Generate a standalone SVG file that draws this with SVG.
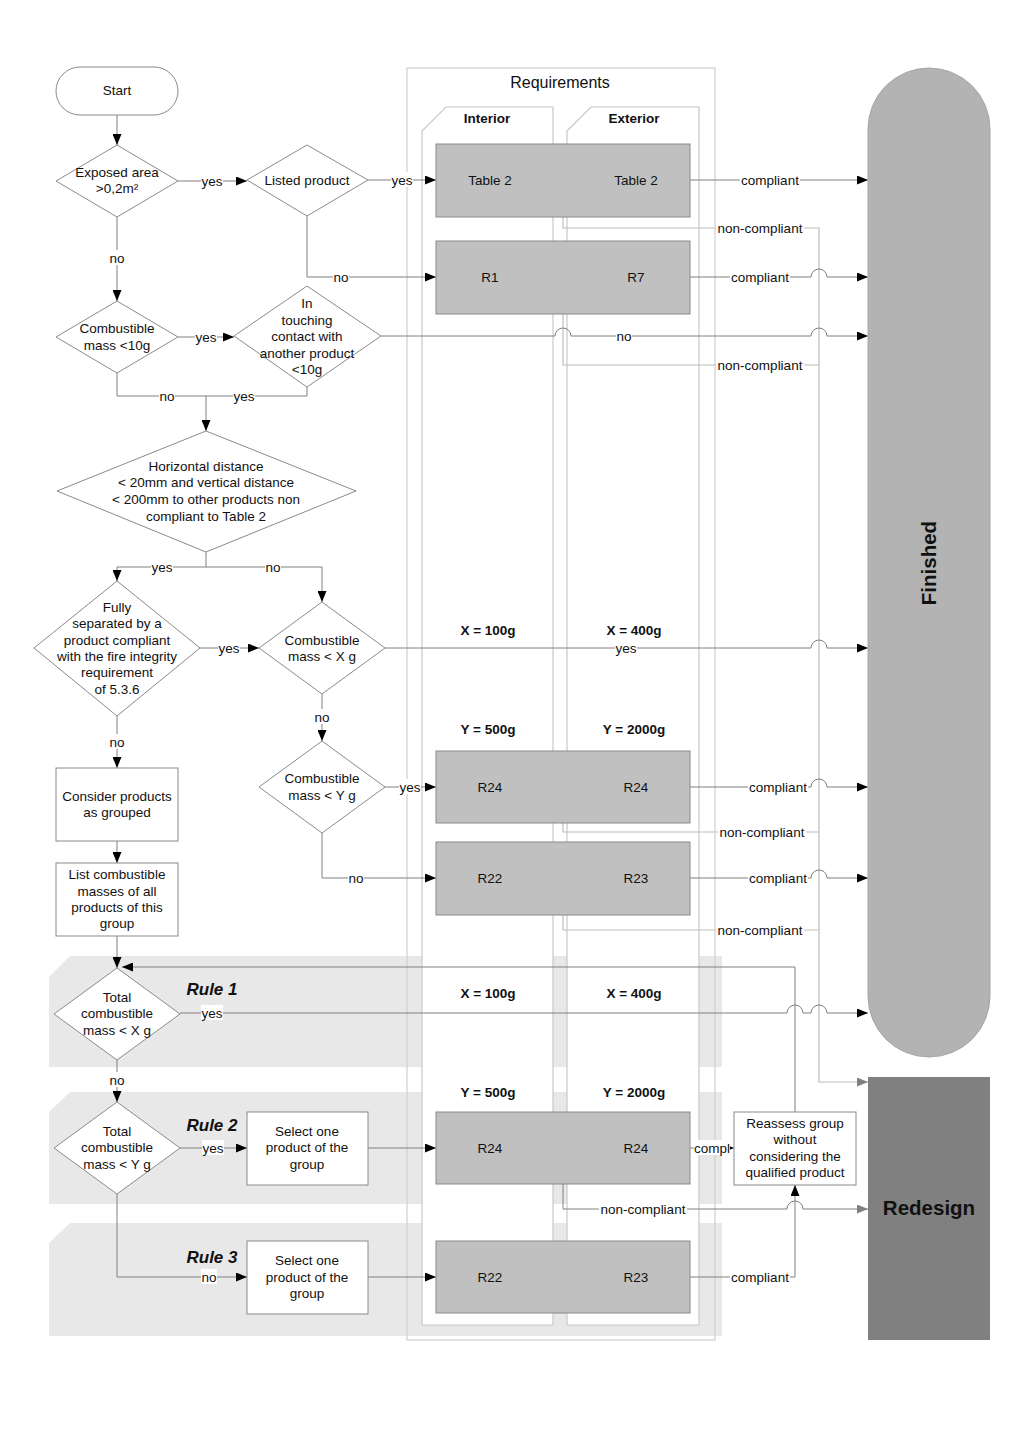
<svg xmlns="http://www.w3.org/2000/svg" width="1024" height="1448" viewBox="0 0 1024 1448">
<style>
text{font-family:"Liberation Sans",Arial,sans-serif;fill:#111}
.t{font-size:13.5px;text-anchor:middle}
.b{font-size:13.5px;font-weight:bold;text-anchor:middle}
.rule{font-size:17px;font-weight:bold;font-style:italic;text-anchor:middle}
.big{font-size:20.5px;font-weight:bold;text-anchor:middle}
.node{fill:#fff;stroke:#8a8a8a;stroke-width:1}
.req{fill:#c0c0c0;stroke:#8a8a8a;stroke-width:1}
.band{fill:#e8e8e8}
.lane{fill:#fff;stroke:#c8c8c8;stroke-width:1.2}
.c{fill:none;stroke:#808080;stroke-width:1}
.nc{fill:none;stroke:#bdbdbd;stroke-width:1.2}
.lbg{fill:#fff}
</style>
<defs>
<marker id="a" markerUnits="userSpaceOnUse" markerWidth="11" markerHeight="9" refX="11" refY="4.5" orient="auto"><path d="M0,0 L11,4.5 L0,9 z" fill="#000"/></marker>
<marker id="g" markerUnits="userSpaceOnUse" markerWidth="11" markerHeight="9" refX="11" refY="4.5" orient="auto"><path d="M0,0 L11,4.5 L0,9 z" fill="#808080"/></marker>
</defs>
<rect x="0" y="0" width="1024" height="1448" fill="#fff"/>

<g id="bands">
<polygon class="band" points="49,977 70,956 722,956 722,1067 49,1067"/>
<polygon class="band" points="49,1112 70,1092 722,1092 722,1204 49,1204"/>
<polygon class="band" points="49,1243 70,1223 722,1223 722,1336 49,1336"/>
</g>

<g id="requirements">
<rect x="407" y="68" width="308" height="1272" fill="none" stroke="#cfcfcf" stroke-width="1.2"/>
<text x="560" y="88" style="font-size:16px;text-anchor:middle">Requirements</text>
<polygon class="lane" points="422,131 446,107 553,107 553,1325 422,1325"/>
<polygon class="lane" points="567,131 591,107 699,107 699,1325 567,1325"/>
<text class="b" x="487" y="123">Interior</text>
<text class="b" x="634" y="123">Exterior</text>
<text class="b" x="488" y="635">X = 100g</text>
<text class="b" x="634" y="635">X = 400g</text>
<text class="b" x="488" y="734">Y = 500g</text>
<text class="b" x="634" y="734">Y = 2000g</text>
<text class="b" x="488" y="998">X = 100g</text>
<text class="b" x="634" y="998">X = 400g</text>
<text class="b" x="488" y="1097">Y = 500g</text>
<text class="b" x="634" y="1097">Y = 2000g</text>
</g>

<g id="rule-labels">
<text class="rule" x="212" y="995">Rule 1</text>
<text class="rule" x="212" y="1131">Rule 2</text>
<text class="rule" x="212" y="1263">Rule 3</text>
</g>

<g id="connectors">
<path class="nc" d="M563,217 V228 H819 V1082 H868" marker-end="url(#g)"/>
<path class="nc" d="M563,314 V365 H819"/>
<path class="nc" d="M563,823 V832 H819"/>
<path class="nc" d="M563,915 V930 H819"/>
<path class="c" d="M563,1184 V1209 H787 A8,8 0 0 1 803,1209 H868" marker-end="url(#g)"/>

<path class="c" d="M117,115 V145" marker-end="url(#a)"/>
<path class="c" d="M178,181 H247" marker-end="url(#a)"/>
<path class="c" d="M368,180 H436" marker-end="url(#a)"/>
<path class="c" d="M307,216 V277 H436" marker-end="url(#a)"/>
<path class="c" d="M117,217 V301" marker-end="url(#a)"/>
<path class="c" d="M178,337 H234" marker-end="url(#a)"/>
<path class="c" d="M381,336 H555 A8,8 0 0 1 571,336 H811 A8,8 0 0 1 827,336 H868" marker-end="url(#a)"/>
<path class="c" d="M117,373 V396 H307 V387"/>
<path class="c" d="M206,396 V431" marker-end="url(#a)"/>
<path class="c" d="M206,552 V567 H117 V581" marker-end="url(#a)"/>
<path class="c" d="M206,567 H322 V602" marker-end="url(#a)"/>
<path class="c" d="M200,648 H259" marker-end="url(#a)"/>
<path class="c" d="M385,648 H811 A8,8 0 0 1 827,648 H868" marker-end="url(#a)"/>
<path class="c" d="M322,694 V741" marker-end="url(#a)"/>
<path class="c" d="M385,787 H436" marker-end="url(#a)"/>
<path class="c" d="M322,833 V878 H436" marker-end="url(#a)"/>
<path class="c" d="M117,716 V768" marker-end="url(#a)"/>
<path class="c" d="M117,841 V863" marker-end="url(#a)"/>
<path class="c" d="M117,936 V968" marker-end="url(#a)"/>
<path class="c" d="M180,1013 H787 A8,8 0 0 1 803,1013 H811 A8,8 0 0 1 827,1013 H868" marker-end="url(#a)"/>
<path class="c" d="M117,1060 V1102" marker-end="url(#a)"/>
<path class="c" d="M180,1148 H247" marker-end="url(#a)"/>
<path class="c" d="M368,1148 H436" marker-end="url(#a)"/>
<path class="c" d="M117,1194 V1277 H247" marker-end="url(#a)"/>
<path class="c" d="M368,1277 H436" marker-end="url(#a)"/>
<path class="c" d="M690,180 H868" marker-end="url(#a)"/>
<path class="c" d="M690,277 H811 A8,8 0 0 1 827,277 H868" marker-end="url(#a)"/>
<path class="c" d="M690,787 H811 A8,8 0 0 1 827,787 H868" marker-end="url(#a)"/>
<path class="c" d="M690,878 H811 A8,8 0 0 1 827,878 H868" marker-end="url(#a)"/>
<path class="c" d="M690,1148 H734" marker-end="url(#a)"/>
<path class="c" d="M690,1277 H795 V1185" marker-end="url(#a)"/>
<path class="c" d="M795,1112 V967 H122" marker-end="url(#a)"/>

<g id="connector-labels">
<rect class="lbg" x="201" y="173" width="22" height="15"/><text class="t" x="212" y="186">yes</text>
<rect class="lbg" x="391" y="172" width="22" height="15"/><text class="t" x="402" y="185">yes</text>
<rect class="lbg" x="333" y="269" width="16" height="15"/><text class="t" x="341" y="282">no</text>
<rect class="lbg" x="109" y="250" width="16" height="15"/><text class="t" x="117" y="263">no</text>
<rect class="lbg" x="195" y="329" width="22" height="15"/><text class="t" x="206" y="342">yes</text>
<rect class="lbg" x="616" y="328" width="16" height="15"/><text class="t" x="624" y="341">no</text>
<rect class="lbg" x="159" y="388" width="16" height="15"/><text class="t" x="167" y="401">no</text>
<rect class="lbg" x="233" y="388" width="22" height="15"/><text class="t" x="244" y="401">yes</text>
<rect class="lbg" x="151" y="559" width="22" height="15"/><text class="t" x="162" y="572">yes</text>
<rect class="lbg" x="265" y="559" width="16" height="15"/><text class="t" x="273" y="572">no</text>
<rect class="lbg" x="218" y="640" width="22" height="15"/><text class="t" x="229" y="653">yes</text>
<rect class="lbg" x="615" y="640" width="22" height="15"/><text class="t" x="626" y="653">yes</text>
<rect class="lbg" x="314" y="709" width="16" height="15"/><text class="t" x="322" y="722">no</text>
<rect class="lbg" x="399" y="779" width="22" height="15"/><text class="t" x="410" y="792">yes</text>
<rect class="lbg" x="348" y="870" width="16" height="15"/><text class="t" x="356" y="883">no</text>
<rect class="lbg" x="109" y="734" width="16" height="15"/><text class="t" x="117" y="747">no</text>
<rect class="lbg" x="201" y="1005" width="22" height="15"/><text class="t" x="212" y="1018">yes</text>
<rect class="lbg" x="109" y="1072" width="16" height="15"/><text class="t" x="117" y="1085">no</text>
<rect class="lbg" x="202" y="1140" width="22" height="15"/><text class="t" x="213" y="1153">yes</text>
<rect class="lbg" x="201" y="1269" width="16" height="15"/><text class="t" x="209" y="1282">no</text>
<rect class="lbg" x="740" y="172" width="60" height="15"/><text class="t" x="770" y="185">compliant</text>
<rect class="lbg" x="716" y="220" width="88" height="15"/><text class="t" x="760" y="233">non-compliant</text>
<rect class="lbg" x="730" y="269" width="60" height="15"/><text class="t" x="760" y="282">compliant</text>
<rect class="lbg" x="716" y="357" width="88" height="15"/><text class="t" x="760" y="370">non-compliant</text>
<rect class="lbg" x="748" y="779" width="60" height="15"/><text class="t" x="778" y="792">compliant</text>
<rect class="lbg" x="718" y="824" width="88" height="15"/><text class="t" x="762" y="837">non-compliant</text>
<rect class="lbg" x="748" y="870" width="60" height="15"/><text class="t" x="778" y="883">compliant</text>
<rect class="lbg" x="716" y="922" width="88" height="15"/><text class="t" x="760" y="935">non-compliant</text>
<rect class="lbg" x="694" y="1140" width="36" height="15"/><text class="t" x="712" y="1153">compl</text>
<rect class="lbg" x="599" y="1201" width="88" height="15"/><text class="t" x="643" y="1214">non-compliant</text>
<rect class="lbg" x="730" y="1269" width="60" height="15"/><text class="t" x="760" y="1282">compliant</text>
</g>
</g>

<g id="start"><rect class="node" x="56" y="67" width="122" height="48" rx="24"/><text class="t" x="117" y="95">Start</text></g>
<g id="exposed-area"><polygon class="node" points="117,145 178,181 117,217 56,181"/><text class="t" x="117" y="177">Exposed area</text><text class="t" x="117" y="193">&gt;0,2m²</text></g>
<g id="listed-product"><polygon class="node" points="307,145 368,180 307,216 247,180"/><text class="t" x="307" y="185">Listed product</text></g>
<g id="combustible-10g"><polygon class="node" points="117,301 178,337 117,373 56,337"/><text class="t" x="117" y="332.5">Combustible</text><text class="t" x="117" y="350">mass &lt;10g</text></g>
<g id="touching-contact"><polygon class="node" points="307,286 381,336 307,387 234,336"/>
<text class="t" x="307" y="308">In</text><text class="t" x="307" y="324.5">touching</text><text class="t" x="307" y="341">contact with</text><text class="t" x="307" y="357.5">another product</text><text class="t" x="307" y="374">&lt;10g</text></g>
<g id="distance"><polygon class="node" points="206,431 356,491 206,552 57,491"/>
<text class="t" x="206" y="470.5">Horizontal distance</text><text class="t" x="206" y="487">&lt; 20mm and vertical distance</text><text class="t" x="206" y="504">&lt; 200mm to other products non</text><text class="t" x="206" y="520.5">compliant to Table 2</text></g>
<g id="fully-separated"><polygon class="node" points="117,581 200,648 117,716 34,648"/>
<text class="t" x="117" y="612">Fully</text><text class="t" x="117" y="628">separated by a</text><text class="t" x="117" y="645">product compliant</text><text class="t" x="117" y="661">with the fire integrity</text><text class="t" x="117" y="677">requirement</text><text class="t" x="117" y="693.5">of 5.3.6</text></g>
<g id="mass-x"><polygon class="node" points="322,602 385,648 322,694 259,648"/><text class="t" x="322" y="645">Combustible</text><text class="t" x="322" y="661">mass &lt; X g</text></g>
<g id="mass-y"><polygon class="node" points="322,741 385,787 322,833 259,787"/><text class="t" x="322" y="783">Combustible</text><text class="t" x="322" y="800">mass &lt; Y g</text></g>
<g id="consider-grouped"><rect class="node" x="56" y="768" width="122" height="73"/><text class="t" x="117" y="800.5">Consider products</text><text class="t" x="117" y="816.5">as grouped</text></g>
<g id="list-masses"><rect class="node" x="56" y="863" width="122" height="73"/><text class="t" x="117" y="879">List combustible</text><text class="t" x="117" y="895.5">masses of all</text><text class="t" x="117" y="912">products of this</text><text class="t" x="117" y="928">group</text></g>
<g id="total-x"><polygon class="node" points="117,968 180,1014 117,1060 54,1014"/><text class="t" x="117" y="1001.5">Total</text><text class="t" x="117" y="1018">combustible</text><text class="t" x="117" y="1035">mass &lt; X g</text></g>
<g id="total-y"><polygon class="node" points="117,1102 180,1148 117,1194 54,1148"/><text class="t" x="117" y="1136">Total</text><text class="t" x="117" y="1152">combustible</text><text class="t" x="117" y="1169">mass &lt; Y g</text></g>
<g id="select-1"><rect class="node" x="247" y="1112" width="121" height="73"/><text class="t" x="307" y="1136">Select one</text><text class="t" x="307" y="1152">product of the</text><text class="t" x="307" y="1169">group</text></g>
<g id="select-2"><rect class="node" x="247" y="1241" width="121" height="73"/><text class="t" x="307" y="1265">Select one</text><text class="t" x="307" y="1281.5">product of the</text><text class="t" x="307" y="1298">group</text></g>
<g id="reassess"><rect class="node" x="734" y="1112" width="122" height="73"/><text class="t" x="795" y="1127.5">Reassess group</text><text class="t" x="795" y="1144">without</text><text class="t" x="795" y="1160.5">considering the</text><text class="t" x="795" y="1177">qualified product</text></g>

<g id="req-table2"><rect class="req" x="436" y="144" width="254" height="73"/><text class="t" x="490" y="185">Table 2</text><text class="t" x="636" y="185">Table 2</text></g>
<g id="req-r1-r7"><rect class="req" x="436" y="241" width="254" height="73"/><text class="t" x="490" y="282">R1</text><text class="t" x="636" y="282">R7</text></g>
<g id="req-r24-a"><rect class="req" x="436" y="751" width="254" height="72"/><text class="t" x="490" y="792">R24</text><text class="t" x="636" y="792">R24</text></g>
<g id="req-r22-a"><rect class="req" x="436" y="842" width="254" height="73"/><text class="t" x="490" y="883">R22</text><text class="t" x="636" y="883">R23</text></g>
<g id="req-r24-b"><rect class="req" x="436" y="1112" width="254" height="72"/><text class="t" x="490" y="1153">R24</text><text class="t" x="636" y="1153">R24</text></g>
<g id="req-r22-b"><rect class="req" x="436" y="1241" width="254" height="72"/><text class="t" x="490" y="1282">R22</text><text class="t" x="636" y="1282">R23</text></g>

<g id="finished"><rect x="868" y="68" width="122" height="989" rx="61" ry="61" fill="#b3b3b3" stroke="#a6a6a6"/><text class="big" x="929" y="570" transform="rotate(-90 929 563)">Finished</text></g>
<g id="redesign"><rect x="868" y="1077" width="122" height="263" fill="#808080"/><text class="big" x="929" y="1215">Redesign</text></g>
</svg>
